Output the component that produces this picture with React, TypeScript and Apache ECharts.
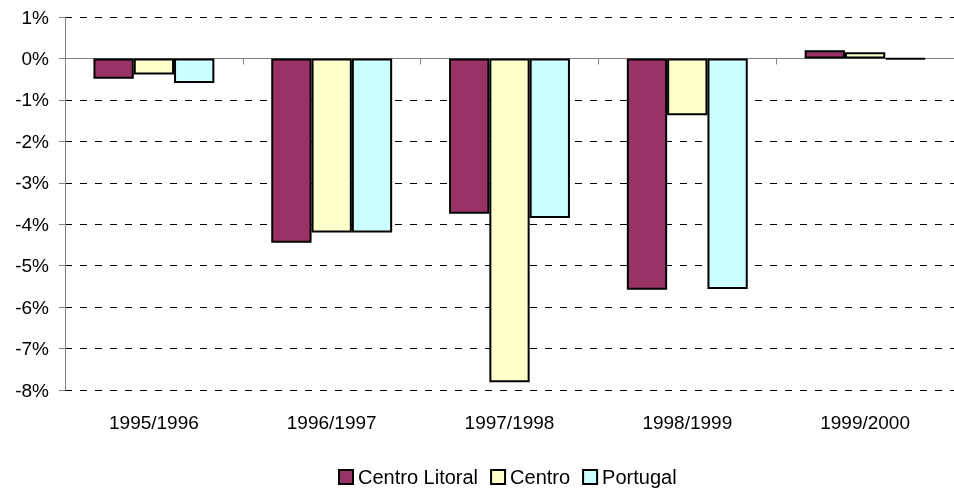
import React, { useEffect, useRef } from "react";
import * as echarts from "echarts";

const categories = ["1995/1996", "1996/1997", "1997/1998", "1998/1999", "1999/2000"];
const centroLitoral = [-0.49, -4.45, -3.75, -5.58, 0.2];
const centro = [-0.39, -4.2, -7.81, -1.37, 0.15];
const portugal = [-0.59, -4.2, -3.85, -5.56, -0.02];
const seriesNames = ["Centro Litoral", "Centro", "Portugal"];
const seriesColors = ["#993366", "#FFFFCC", "#CCFFFF"];

export default function App() {
  const ref = useRef<HTMLDivElement>(null);
  useEffect(() => {
    if (!ref.current) return;
    const chart = echarts.init(ref.current, null, { renderer: "svg" });
    const font = "'Liberation Sans', Arial, sans-serif";
    const datasets = [centroLitoral, centro, portugal];
    chart.setOption({
      animation: false,
      textStyle: { fontFamily: font },
      grid: { left: 65, top: 17, bottom: 101, width: 892 },
      legend: {
        top: 467,
        left: 338,
        icon: "rect",
        itemWidth: 14,
        itemHeight: 14,
        itemGap: 12,
        padding: 0,
        textStyle: { fontSize: 20, color: "#000", fontFamily: font },
        itemStyle: { borderColor: "#000", borderWidth: 2 },
        data: seriesNames.map((n, i) => ({
          name: n,
          itemStyle: { color: seriesColors[i], borderColor: "#000", borderWidth: 2 },
        })),
      },
      xAxis: [
        {
          type: "category",
          data: categories,
          position: "bottom",
          axisLine: { show: false, onZero: false },
          axisTick: { show: false },
          axisLabel: { fontSize: 19, color: "#000", margin: 23, fontFamily: font },
        },
        {
          type: "category",
          data: categories,
          position: "top",
          axisLine: { show: true, onZero: true, lineStyle: { color: "#808080", width: 1 } },
          axisTick: { show: true, inside: true, length: 6, interval: 0, lineStyle: { color: "#808080" } },
          axisLabel: { show: false },
        },
      ],
      yAxis: {
        type: "value",
        min: -8,
        max: 1,
        interval: 1,
        axisLine: { show: true, lineStyle: { color: "#808080" } },
        axisTick: { show: true, length: 6, lineStyle: { color: "#808080" } },
        axisLabel: {
          fontSize: 19,
          color: "#000",
          margin: 16,
          fontFamily: font,
          formatter: (v: number) => `${v}%`,
        },
        splitLine: { show: true, lineStyle: { color: "#000", type: [7, 8], width: 1 } },
      },
      series: datasets.map((d, i) => ({
        name: seriesNames[i],
        type: "bar",
        xAxisIndex: 0,
        data: d,
        barGap: "0%",
        barCategoryGap: "32%",
        itemStyle: { color: seriesColors[i], borderColor: "#000", borderWidth: 2 },
      })),
    });
    return () => chart.dispose();
  }, []);
  return (
    <div
      ref={ref}
      style={{ position: "fixed", left: 0, top: 0, width: 954, height: 491, overflow: "hidden" }}
    />
  );
}
